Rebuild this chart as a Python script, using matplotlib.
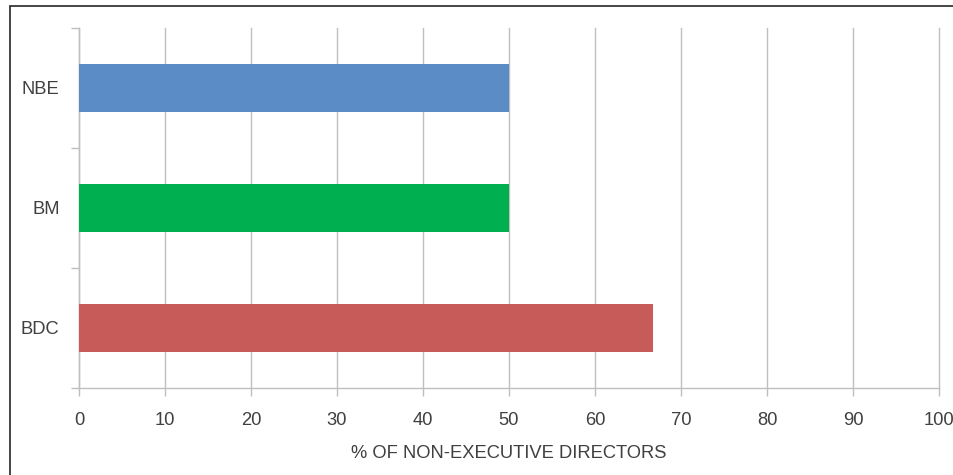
import matplotlib.pyplot as plt
from matplotlib.patches import Rectangle

# data
banks = ["BDC", "BM", "NBE"]
pct_non_exec = [66.7, 50, 50]
bar_colors = ["#C65B59", "#00B050", "#5B8CC6"]
x_ticks = list(range(0, 101, 10))

plt.rcParams["font.family"] = ["Liberation Sans", "DejaVu Sans"]
grid_col = "#BFBFBF"
text_col = "#404040"
fs = 13.2

fig = plt.figure(figsize=(9.54, 4.75), dpi=100)
ax = fig.add_axes([79 / 954, 1 - 388 / 475, 860 / 954, 360 / 475])

ypos = list(range(len(banks)))
ax.barh(ypos, pct_non_exec, height=0.4, color=bar_colors, zorder=3)

ax.set_xlim(0, 100)
ax.set_ylim(-0.5, len(banks) - 0.5)
ax.set_xticks(x_ticks)
ax.set_xticklabels([str(t) for t in x_ticks], fontsize=fs, color=text_col)
ax.set_yticks(ypos)
ax.set_yticklabels(banks, fontsize=fs, color=text_col)
ax.set_yticks([-0.5, 0.5, 1.5, 2.5], minor=True)

ax.tick_params(axis="y", which="major", length=0, pad=14)
ax.tick_params(axis="y", which="minor", length=6, color=grid_col, width=1)
ax.tick_params(axis="x", length=6, color=grid_col, width=1, pad=11)

ax.grid(axis="x", color=grid_col, linewidth=1, zorder=0, clip_on=False)
for s in ["top", "right"]:
    ax.spines[s].set_visible(False)
for s in ["left", "bottom"]:
    ax.spines[s].set_color(grid_col)
    ax.spines[s].set_linewidth(1)

ax.set_xlabel("% OF NON-EXECUTIVE DIRECTORS", fontsize=fs, color=text_col, labelpad=12)

# outer chart border (cut off at right and bottom)
fig.patches.append(Rectangle((10.5 / 954, -0.05), 1.0, 1 - 5.5 / 475 + 0.05,
                             transform=fig.transFigure, fill=False,
                             edgecolor="#262626", linewidth=1.2))

fig.savefig("out.png", dpi=100)
